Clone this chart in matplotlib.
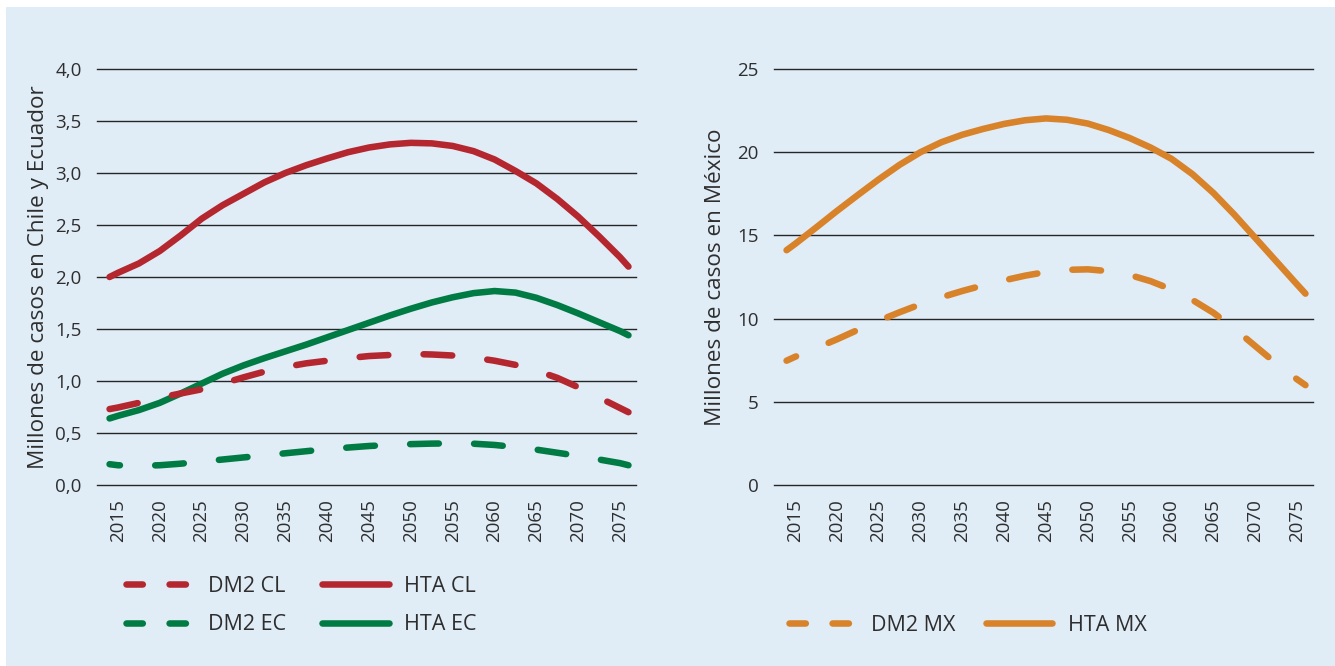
import matplotlib
matplotlib.use('Agg')
import matplotlib.pyplot as plt
from matplotlib.lines import Line2D
from matplotlib.patches import Rectangle

# years (x) and values
years = [2014, 2015, 2017.5, 2020, 2022.5, 2025, 2027.5, 2030, 2032.5, 2035, 2037.5,
         2040, 2042.5, 2045, 2047.5, 2050, 2052.5, 2055, 2057.5, 2060, 2062.5,
         2065, 2067.5, 2070, 2072.5, 2075, 2076]
tick_years = [2015, 2020, 2025, 2030, 2035, 2040, 2045, 2050, 2055, 2060, 2065, 2070, 2075]

# Chile y Ecuador (millones)
dm2_cl = [0.73, 0.745, 0.79, 0.84, 0.88, 0.92, 0.975, 1.035, 1.09, 1.135, 1.17,
          1.195, 1.22, 1.24, 1.25, 1.26, 1.255, 1.245, 1.225, 1.195, 1.155,
          1.10, 1.03, 0.94, 0.84, 0.74, 0.70]
hta_cl = [2.00, 2.04, 2.13, 2.25, 2.40, 2.56, 2.69, 2.80, 2.91, 3.00, 3.075,
          3.14, 3.20, 3.245, 3.275, 3.29, 3.285, 3.26, 3.21, 3.13, 3.02,
          2.90, 2.75, 2.58, 2.39, 2.19, 2.10]
dm2_ec = [0.20, 0.19, 0.185, 0.19, 0.205, 0.225, 0.245, 0.265, 0.285, 0.305, 0.325,
          0.345, 0.36, 0.375, 0.385, 0.393, 0.398, 0.40, 0.397, 0.385, 0.365,
          0.34, 0.31, 0.28, 0.245, 0.21, 0.19]
hta_ec = [0.64, 0.665, 0.72, 0.79, 0.88, 0.975, 1.07, 1.15, 1.22, 1.285, 1.35,
          1.42, 1.49, 1.56, 1.63, 1.695, 1.755, 1.805, 1.845, 1.865, 1.85,
          1.80, 1.73, 1.65, 1.565, 1.48, 1.44]

# Mexico (millones)
dm2_mx = [7.47, 7.70, 8.22, 8.75, 9.32, 9.87, 10.38, 10.86, 11.28, 11.66, 12.0,
          12.3, 12.58, 12.8, 12.93, 12.96, 12.85, 12.62, 12.25, 11.75, 11.12,
          10.35, 9.4, 8.35, 7.3, 6.35, 6.0]
hta_mx = [14.11, 14.48, 15.46, 16.46, 17.42, 18.36, 19.24, 20.0, 20.6, 21.05, 21.4,
          21.7, 21.92, 22.03, 21.95, 21.72, 21.33, 20.85, 20.28, 19.6, 18.68,
          17.55, 16.25, 14.85, 13.45, 12.05, 11.5]

left_ticks = [0.0, 0.5, 1.0, 1.5, 2.0, 2.5, 3.0, 3.5, 4.0]
right_ticks = [0, 5, 10, 15, 20, 25]

RED = '#b5272f'
GREEN = '#007b43'
ORANGE = '#d8822a'
BG = '#e0ecf6'
TXT = '#2e2e2e'
LW = 4.7
DASH = (0, (4.4, 5.4))
DASH_OFF = (2.8, (4.4, 5.4))
LEG_DASH = (0, (2.5, 4.1))


def style_axis(ax, ticks, labels):
    ax.set_facecolor('none')
    for s in ax.spines.values():
        s.set_visible(False)
    ax.set_xlim(2012.5, 2076.9)
    ax.set_ylim(ticks[0], ticks[-1])
    ax.set_yticks(ticks)
    ax.set_yticklabels(labels)
    ax.set_xticks(tick_years)
    ax.set_xticklabels([str(y) for y in tick_years], rotation=90)
    ax.tick_params(axis='y', length=0, pad=11, labelsize=13.5, labelcolor=TXT)
    ax.tick_params(axis='x', length=0, pad=10, labelsize=13.5, labelcolor=TXT)
    ax.grid(axis='y', color='#262626', linewidth=1.0)
    ax.grid(axis='x', visible=False)
    for gl in ax.get_ygridlines():
        gl.set_clip_on(False)
    ax.set_axisbelow(True)


def main():
    plt.rcParams['font.family'] = ['Open Sans', 'DejaVu Sans']

    fig = plt.figure(figsize=(13.35, 6.66), dpi=100)
    fig.patch.set_facecolor('white')
    fig.add_artist(Rectangle((6 / 1335, 0), 1 - 6 / 1335, 659 / 666,
                             transform=fig.transFigure, facecolor=BG,
                             edgecolor='none', zorder=-10))

    ax1 = fig.add_axes([97 / 1335, 181 / 666, 539 / 1335, 416 / 666])
    ax2 = fig.add_axes([774 / 1335, 181 / 666, 539 / 1335, 416 / 666])

    kw = dict(linewidth=LW, solid_capstyle='round', dash_capstyle='round',
              solid_joinstyle='round', dash_joinstyle='round')

    # left chart: Chile and Ecuador
    style_axis(ax1, left_ticks, [('%.1f' % t).replace('.', ',') for t in left_ticks])
    ax1.plot(years, dm2_ec, color=GREEN, linestyle=DASH_OFF, **kw)
    ax1.plot(years, hta_ec, color=GREEN, **kw)
    ax1.plot(years, dm2_cl, color=RED, linestyle=DASH, **kw)
    ax1.plot(years, hta_cl, color=RED, **kw)
    ax1.set_ylabel('Millones de casos en Chile y Ecuador', fontsize=16.2, color=TXT)
    ax1.yaxis.set_label_coords(-0.089, 0.5)

    # right chart: Mexico
    style_axis(ax2, right_ticks, [str(t) for t in right_ticks])
    ax2.plot(years, dm2_mx, color=ORANGE, linestyle=DASH_OFF, **kw)
    ax2.plot(years, hta_mx, color=ORANGE, **kw)
    ax2.set_ylabel('Millones de casos en México', fontsize=16.2, color=TXT)
    ax2.yaxis.set_label_coords(-0.089, 0.5)

    # legends with custom handles
    def h(c, ls):
        return Line2D([], [], color=c, linewidth=LW, linestyle=ls,
                      solid_capstyle='round', dash_capstyle='round')

    leg_kw = dict(frameon=False, fontsize=15.5, handlelength=3.1, handletextpad=0.72,
                  labelspacing=0.8, borderpad=0, borderaxespad=0, labelcolor=TXT)
    fig.legend([h(RED, LEG_DASH), h(GREEN, LEG_DASH), h(RED, '-'), h(GREEN, '-')],
               ['DM2 CL', 'DM2 EC', 'HTA CL', 'HTA EC'], ncol=2, loc='upper left',
               columnspacing=1.65, bbox_to_anchor=(126 / 1335, 1 - 576 / 666), **leg_kw)
    fig.legend([h(ORANGE, LEG_DASH), h(ORANGE, '-')], ['DM2 MX', 'HTA MX'],
               ncol=2, loc='upper left', columnspacing=1.4,
               bbox_to_anchor=(789 / 1335, 1 - 615 / 666), **leg_kw)

    fig.savefig('out.png', dpi=100, facecolor=fig.get_facecolor())


if __name__ == '__main__':
    main()
